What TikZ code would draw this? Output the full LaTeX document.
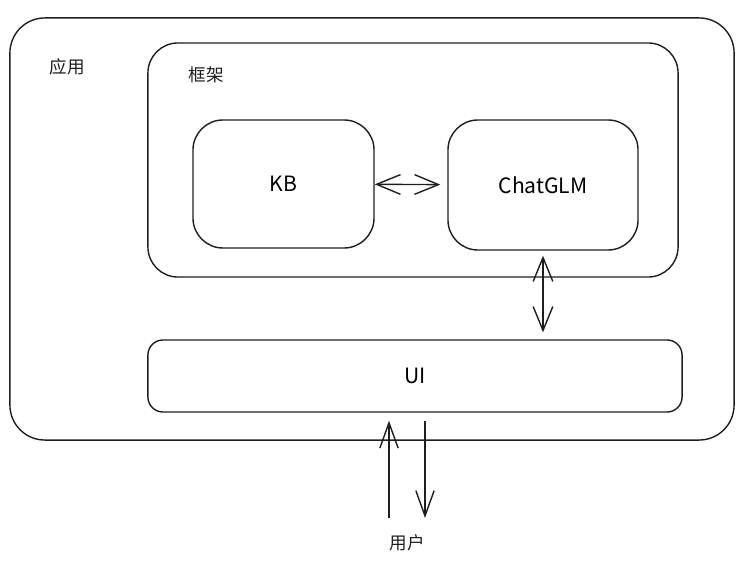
\documentclass[tikz,border=0pt]{standalone}
\usepackage{fontspec}
\newfontfamily\cjk{Noto Sans CJK SC}
\usepackage{tikz}
\usetikzlibrary{positioning,arrows.meta,calc}
\definecolor{ink}{HTML}{1E1E1E}

\begin{document}
\begin{tikzpicture}[
    x=0.025cm, y=-0.025cm,
    box/.style={draw=ink, line width=1pt, rounded corners=0.75cm, align=center, font=\cjk\fontsize{15}{18}\selectfont},
    tag/.style={font=\cjk\fontsize{12.5}{15}\selectfont, text=ink},
    arr/.style={{Straight Barb[length=17pt, width=14pt]}-{Straight Barb[length=17pt, width=14pt]}, line width=1pt, ink},
    uarr/.style={-{Straight Barb[length=18pt, width=13pt]}, line width=1pt, ink}
  ]
    \useasboundingbox (0,0) rectangle (744,563);

    % boxes
    \node[box, rounded corners=0.875cm, minimum width=18.1cm, minimum height=10.55cm] (app) at (372,229) {};
    \node[box, minimum width=13.25cm, minimum height=5.85cm] (frame) at (413,160) {};
    \node[box, minimum width=4.525cm, minimum height=3.2cm] (kb) at (283.5,184) {KB};
    \node[box, minimum width=4.75cm, minimum height=3.25cm] (glm) at (543,185) {ChatGLM};
    \node[box, rounded corners=0.375cm, minimum width=13.35cm, minimum height=1.8cm] (ui) at (415,376) {UI};

    % labels
    \node[tag] (applabel) at (67,67) {应用};
    \node[tag] (framelabel) at (206,75) {框架};
    \node[tag] (user) at (407,543) {用户};

    % connectors
    \draw[arr, shorten >=0.175cm] (kb) -- (glm);
    \draw[arr, shorten <=0.125cm, shorten >=0.175cm] (glm.south) -- (glm.south |- ui.north);

    \coordinate (upfoot) at (389,518);
    \coordinate (downfoot) at (425,518);
    \draw[uarr, shorten >=0.2cm] (upfoot) -- (upfoot |- ui.south);
    \draw[uarr, shorten <=0.2cm] (downfoot |- ui.south) -- (downfoot);
  \end{tikzpicture}
\end{document}
